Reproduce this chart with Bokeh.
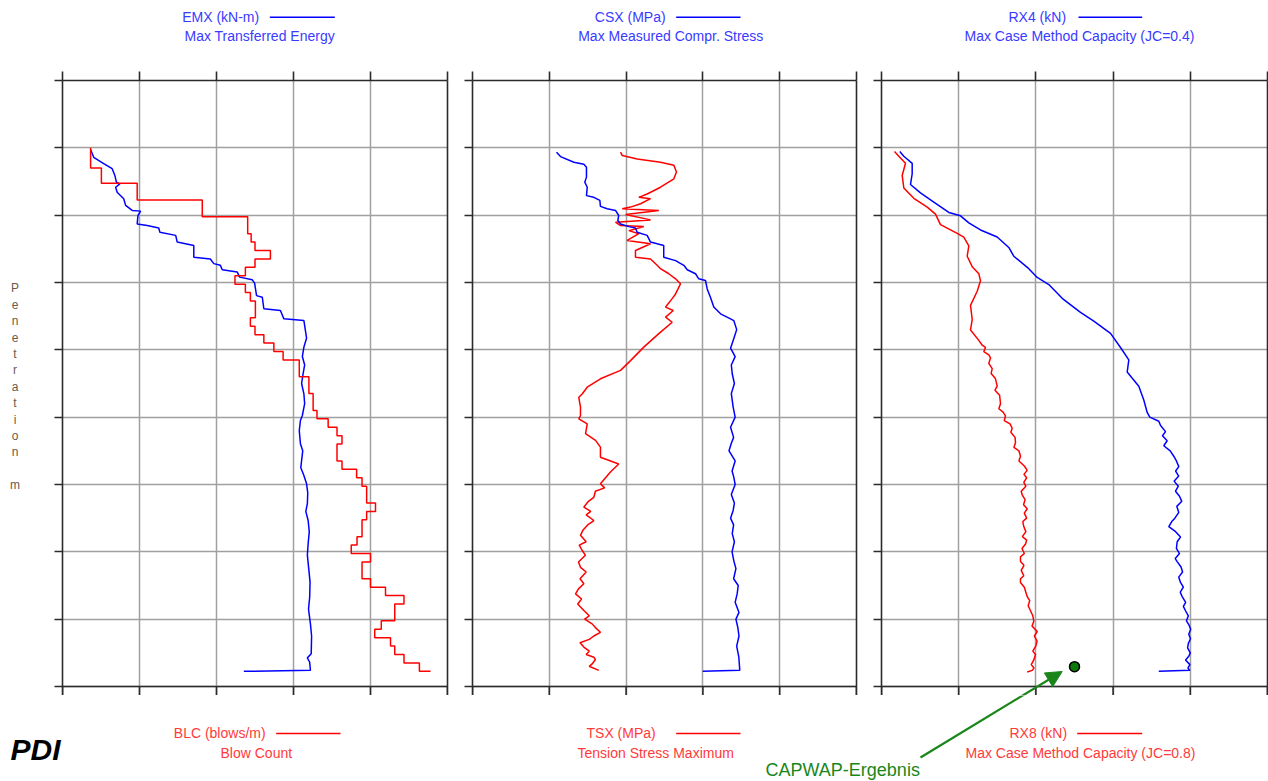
from bokeh.plotting import figure
from bokeh.models import (Range1d, FixedTicker, LinearAxis, Label, Span, Arrow, NormalHead,
                          CustomJSTickFormatter)
from bokeh.layouts import row, column
from bokeh.embed import file_html
from bokeh.resources import INLINE

# ---------------- data (depth in m, values in panel units) ----------------
depth_ticks = [0, 2, 4, 6, 8, 10, 12, 14, 16, 18]

# Panel 1: EMX (kN-m) and BLC (blows/m)
emx_depth = [2.05, 2.28, 2.47, 2.62, 2.82, 3.02, 3.07, 3.17, 3.32, 3.51, 3.71, 3.86, 3.88, 4.01, 4.26,
             4.31, 4.38, 4.51, 4.60, 4.80, 4.90, 5.25, 5.30, 5.44, 5.49, 5.62, 5.69, 5.84, 5.92, 6.02,
             6.39, 6.44, 6.78, 6.83, 7.08, 7.13, 7.43, 7.65, 7.92, 8.20, 8.45, 8.71, 9.00, 9.31, 9.60,
             9.95, 10.10, 10.40, 10.79, 11.00, 11.29, 11.50, 11.73, 11.98, 12.25, 12.57, 12.80, 13.07,
             13.40, 13.76, 14.10, 14.55, 14.90, 15.35, 15.70, 16.14, 16.50, 17.03, 17.15, 17.28, 17.52, 17.55]
emx_value = [7.3, 8.1, 10.7, 12.9, 13.6, 14.0, 14.9, 13.8, 14.2, 15.9, 16.4, 18.1, 20.3, 19.6, 19.4,
             22.0, 25.0, 25.3, 29.4, 29.8, 34.1, 34.1, 38.4, 39.3, 41.0, 41.5, 45.4, 46.0, 49.3, 49.9,
             50.4, 51.9, 52.3, 56.6, 57.5, 62.7, 63.1, 63.4, 62.7, 62.3, 62.9, 62.5, 62.1, 62.7, 62.9,
             62.3, 61.8, 61.5, 61.8, 62.4, 62.1, 61.9, 62.7, 63.4, 63.7, 63.6, 63.2, 63.8,
             64.1, 63.8, 63.6, 64.0, 64.3, 64.2, 63.9, 64.4, 64.7, 64.6, 63.6, 64.2, 64.4, 47.1]

blc_depth = [2.0, 2.6, 3.05, 3.55, 4.05, 4.55, 4.8, 5.05, 5.3, 5.55, 5.8, 6.05, 6.3, 6.55, 7.05, 7.3,
             7.55, 7.8, 8.05, 8.3, 8.8, 9.3, 9.8, 10.05, 10.3, 10.55, 10.8, 11.3, 11.55, 11.8, 12.05,
             12.55, 12.8, 13.05, 13.55, 13.8, 14.05, 14.3, 14.8, 15.05, 15.3, 15.55, 16.05, 16.3, 16.55,
             16.8, 17.05, 17.3, 17.55]
blc_value = [7.3, 10.1, 19.4, 36.3, 48.1, 49.0, 50.0, 54.0, 50.0, 47.5, 44.8, 47.5, 48.8, 50.1, 48.8,
             50.0, 52.3, 54.9, 57.3, 61.5, 64.0, 65.1, 66.1, 69.0, 71.3, 72.6, 71.3, 72.6, 76.4, 77.8,
             79.0, 81.3, 79.0, 77.8, 76.5, 75.0, 80.0, 77.8, 80.0, 83.9, 88.7, 86.3, 82.8, 81.1, 85.2,
             86.3, 88.7, 92.7, 95.6]

# Panel 2: CSX (MPa) and TSX (MPa)
csx_depth = [2.13, 2.26, 2.43, 2.49, 2.58, 2.87, 3.02, 3.17, 3.42, 3.47, 3.56, 3.74, 3.81, 3.86, 4.01,
             4.16, 4.26, 4.34, 4.38, 4.51, 4.60, 4.80, 4.90, 5.25, 5.35, 5.49, 5.62, 5.74, 5.89, 5.94,
             6.19, 6.44, 6.73, 6.93, 7.08, 7.13, 7.40, 7.72, 7.95, 8.20, 8.45, 8.71, 9.00, 9.30, 9.70,
             10.00, 10.30, 10.60, 10.79, 11.00, 11.30, 11.60, 11.78, 12.00, 12.30, 12.55, 12.77, 13.00,
             13.20, 13.46, 13.70, 14.00, 14.26, 14.50, 14.80, 15.00, 15.25, 15.50, 15.80, 16.00, 16.24,
             16.50, 16.80, 17.13, 17.52, 17.55]
csx_value = [5.47, 5.73, 6.60, 7.25, 7.42, 7.42, 7.31, 7.47, 7.42, 7.90, 8.29, 8.33, 8.77, 9.31, 9.52,
             9.46, 9.64, 10.18, 10.61, 10.72, 11.37, 11.59, 12.45, 12.45, 13.22, 13.76, 13.98, 14.52, 14.73,
             15.17, 15.28, 15.49, 15.71, 16.15, 16.80, 17.01, 17.20, 16.97, 16.80, 17.10, 16.85, 16.91,
             17.05, 16.85, 16.97, 17.10, 16.80, 17.00, 16.84, 16.70, 17.10, 16.90, 17.01, 17.10, 16.85,
             17.05, 16.97, 16.80, 17.00, 16.91, 17.05, 16.90, 17.01, 17.15, 17.00, 17.30, 17.23, 17.10,
             17.35, 17.15, 17.27, 17.35, 17.20, 17.34, 17.40, 14.99]

tsx_depth = [2.13, 2.23, 2.33, 2.43, 2.52, 2.72, 2.92, 3.17, 3.37, 3.47, 3.51, 3.66, 3.76, 3.81, 3.86,
             3.98, 4.14, 4.21, 4.31, 4.34, 4.46, 4.55, 4.75, 4.85, 5.05, 5.25, 5.30, 5.49, 5.59, 5.74,
             5.89, 6.04, 6.34, 6.48, 6.73, 6.83, 7.03, 7.18, 7.52, 7.92, 8.32, 8.61, 8.86, 9.11, 9.31,
             9.41, 9.70, 9.95, 10.05, 10.20, 10.49, 10.69, 10.89, 11.19, 11.39, 11.63, 11.98, 12.10,
             12.20, 12.38, 12.50, 12.67, 12.80, 12.90, 13.07, 13.20, 13.35, 13.51, 13.70, 13.80, 13.96,
             14.10, 14.30, 14.46, 14.60, 14.80, 14.95, 15.10, 15.25, 15.40, 15.55, 15.74, 15.90, 16.00,
             16.14, 16.25, 16.39, 16.50, 16.60, 16.70, 16.83, 16.95, 17.05, 17.13, 17.20, 17.33, 17.40,
             17.52]
tsx_value = [9.64, 9.75, 10.72, 12.24, 13.11, 13.28, 13.11, 12.24, 11.37, 10.83, 11.59, 10.94, 10.29,
             9.75, 12.13, 9.96, 11.59, 9.31, 9.64, 11.15, 10.18, 10.83, 10.07, 11.59, 10.61, 10.61, 11.59,
             12.02, 12.24, 12.78, 13.22, 13.54, 13.22, 13.00, 12.57, 13.07, 12.57, 13.00, 12.13, 11.15,
             10.29, 9.64, 8.33, 7.47, 7.14, 6.92, 7.03, 7.03, 6.92, 7.47, 7.36, 8.01, 8.33, 8.33, 9.52,
             8.98, 8.33, 8.60, 8.00, 7.90, 7.55, 7.25, 7.70, 7.40, 7.90, 7.50, 7.20, 7.03, 7.40, 6.95,
             7.14, 7.35, 6.90, 7.03, 7.40, 7.00, 7.25, 6.90, 6.71, 7.10, 6.85, 7.25, 7.60, 7.30, 7.79,
             8.00, 8.33, 7.90, 7.60, 7.00, 7.25, 7.60, 7.40, 7.90, 8.00, 7.79, 7.60, 8.22]

# Panel 3: RX4 (kN) and RX8 (kN), CAPWAP result
rx4_depth = [2.11, 2.25, 2.46, 2.77, 3.09, 3.34, 3.61, 3.92, 4.02, 4.23, 4.44, 4.65, 4.96, 5.22, 5.59,
             5.85, 6.06, 6.47, 6.89, 7.15, 7.51, 7.93, 8.30, 8.66, 9.08, 9.49, 9.86, 10.00, 10.12, 10.25,
             10.43, 10.55, 10.70, 10.85, 11.00, 11.16, 11.30, 11.47, 11.60, 11.75, 11.90, 12.05, 12.20,
             12.35, 12.50, 12.65, 12.83, 13.00, 13.10, 13.25, 13.40, 13.56, 13.70, 13.90, 14.05, 14.20,
             14.29, 14.45, 14.60, 14.75, 14.91, 15.05, 15.20, 15.33, 15.50, 15.62, 15.75, 15.90, 16.05,
             16.16, 16.30, 16.45, 16.58, 16.72, 16.85, 17.00, 17.10, 17.21, 17.35, 17.45, 17.52, 17.55]
rx4_value = [474, 578, 795, 795, 751, 1010, 1355, 1744, 2047, 2262, 2565, 2997, 3298, 3427, 3816,
             4034, 4334, 4681, 5155, 5500, 5933, 6192, 6407, 6365, 6666, 6795, 6883, 6950, 7184, 7230,
             7358, 7280, 7400, 7313, 7480, 7572, 7640, 7702, 7620, 7700, 7580, 7690, 7617,
             7720, 7780, 7650, 7702, 7600, 7520, 7443, 7620, 7746, 7660, 7640, 7720, 7610,
             7660, 7760, 7800, 7700, 7746, 7820, 7740, 7790, 7880, 7820, 7876, 7950, 7900,
             7961, 8010, 7960, 8005, 7950, 7930, 8000, 7961, 7876, 7990, 7940, 7987, 7184]

rx8_depth = [2.11, 2.25, 2.46, 2.82, 3.19, 3.50, 3.76, 3.97, 4.28, 4.54, 4.65, 4.91, 5.22, 5.53, 5.74,
             5.95, 6.26, 6.68, 7.10, 7.41, 7.72, 7.85, 7.93, 8.05, 8.15, 8.24, 8.40, 8.56, 8.70, 8.85,
             9.08, 9.20, 9.35, 9.60, 9.75, 9.85, 9.96, 10.10, 10.20, 10.33, 10.45, 10.60, 10.75, 10.90,
             11.00, 11.16, 11.30, 11.45, 11.58, 11.70, 11.80, 11.94, 12.05, 12.20, 12.31, 12.45, 12.60,
             12.72, 12.85, 13.00, 13.10, 13.25, 13.40, 13.55, 13.65, 13.77, 13.90, 14.05, 14.15, 14.29,
             14.40, 14.55, 14.71, 14.80, 14.91, 15.05, 15.20, 15.33, 15.45, 15.60, 15.75, 15.90, 16.06,
             16.20, 16.37, 16.50, 16.65, 16.79, 16.95, 17.05, 17.21, 17.35, 17.45, 17.52, 17.57]
rx8_value = [337, 448, 622, 536, 578, 837, 1184, 1399, 1528, 1961, 2132, 2262, 2220, 2350, 2521,
             2565, 2479, 2306, 2350, 2306, 2521, 2600, 2694, 2650, 2780, 2824, 2780, 2868, 2840, 2950,
             2997, 2940, 3060, 3083, 3040, 3150, 3212, 3180, 3330, 3386, 3350, 3460, 3472, 3430,
             3560, 3601, 3560, 3700, 3775, 3690, 3760, 3686, 3740, 3620, 3645, 3720, 3680,
             3775, 3700, 3760, 3660, 3686, 3740, 3650, 3760, 3731, 3640, 3700, 3600, 3601,
             3690, 3620, 3686, 3600, 3601, 3700, 3740, 3775, 3840, 3800, 3860, 3920, 3946,
             3900, 4034, 3960, 4030, 4000, 3920, 3990, 3946, 3880, 3950, 3904, 3775]

capwap_value = [5000]
capwap_depth = [17.41]

# texts
panel_top_1 = ["EMX (kN-m)", "CSX (MPa)", "RX4 (kN)"]
panel_top_2 = ["Max Transferred Energy", "Max Measured Compr. Stress", "Max Case Method Capacity (JC=0.4)"]
panel_bot_1 = ["BLC (blows/m)", "TSX (MPa)", "RX8 (kN)"]
panel_bot_2 = ["Blow Count", "Tension Stress Maximum", "Max Case Method Capacity (JC=0.8)"]
y_axis_title = "Penetration m"
capwap_text = "CAPWAP-Ergebnis"
logo_text = "PDI"

# ---------------- style / layout (pixels) ----------------
FONT = "Liberation Sans"
BLUE = "#0000ff"
RED = "#ff0000"
TBLUE = "#3a3aff"
TRED = "#ff3a3a"
GREEN = "#1a861a"
AXIS = "#2b2b2b"
GRID = "#a0a0a0"
DEPTH_MAX = 18
LW = 1.5

W_TOTAL = 1268
TOP_H = 71          # titles strip; panel frames start 9 px lower (tick room)
TICK = 9
FRAME_H = 606       # 18 m
PANEL_H = TICK + FRAME_H + TICK
BOT_H = 781 - TOP_H - PANEL_H
FRAME_TOP = TOP_H + TICK            # 80
DEPTH_EXT = DEPTH_MAX * (FRAME_H + TICK) / FRAME_H   # frame extends 9 px below 18 m for the ticks
LEFT_W = 54

panels = [
    dict(bl=8, br=12, fw=385, xmax=100, xstep=20, left=62),
    dict(bl=13, br=12, fw=384, xmax=25, xstep=5, left=472),
    dict(bl=13, br=1, fw=386, xmax=10000, xstep=2000, left=881),
]

top_pos = [(181.7, 269.3, 334.3, 184.0), (594.3, 675.7, 740.0, 577.7), (1008.0, 1078.0, 1141.7, 964.0)]
bot_pos = [(173.3, 275.7, 340.0, 220.0), (586.0, 675.7, 740.0, 577.0), (1009.0, 1076.7, 1141.7, 965.0)]
TOP_Y1, TOP_Y2, BOT_Y1, BOT_Y2 = 16.7, 35.0, 732.7, 752.0

ARROW_TAIL = (920.0, 757.0)
ARROW_TIP = (1061.7, 671.0)


def px_to_panel(pn, px, py):
    x = (px - pn["left"]) / pn["fw"] * pn["xmax"]
    y = (py - FRAME_TOP) / FRAME_H * DEPTH_MAX
    return x, y


def style_axis(ax, ticks, tick_out):
    ax.ticker = FixedTicker(ticks=ticks)
    ax.formatter = CustomJSTickFormatter(code="return ''")
    ax.major_label_text_font_size = "0px"
    ax.major_tick_in = 0
    ax.major_tick_out = tick_out
    ax.minor_tick_in = 0
    ax.minor_tick_out = 0
    ax.major_label_standoff = 0
    ax.axis_line_color = AXIS
    ax.axis_line_width = 1.6
    ax.major_tick_line_color = AXIS
    ax.major_tick_line_width = 1.6


def make_panel(pn):
    xticks = [pn["xstep"] * i for i in range(6)]
    p = figure(width=pn["bl"] + pn["fw"] + pn["br"], height=PANEL_H,
               x_range=Range1d(0, pn["xmax"]), y_range=Range1d(DEPTH_EXT, 0),
               output_backend="svg", toolbar_location=None, x_axis_location="above",
               min_border_left=pn["bl"], min_border_right=pn["br"],
               min_border_top=TICK, min_border_bottom=0)
    style_axis(p.xaxis[0], xticks, TICK)
    style_axis(p.yaxis[0], depth_ticks, 8)
    right = LinearAxis()
    style_axis(right, [], 0)
    p.add_layout(right, "right")
    p.xgrid.ticker = FixedTicker(ticks=xticks)
    p.ygrid.ticker = FixedTicker(ticks=depth_ticks)
    p.grid.grid_line_color = GRID
    p.grid.grid_line_width = 1.5
    p.outline_line_color = None
    p.background_fill_color = "white"
    p.border_fill_color = "white"
    # bottom axis line and outward ticks, inside the extended frame
    p.add_layout(Span(location=DEPTH_MAX, dimension="width", line_color=AXIS, line_width=1.6))
    p.segment(x0=xticks, y0=[DEPTH_MAX] * len(xticks), x1=xticks, y1=[DEPTH_EXT] * len(xticks),
              line_color=AXIS, line_width=1.6)
    return p


def make_strip(width, height, top):
    s = figure(width=width, height=height, x_range=Range1d(0, width), y_range=Range1d(top + height, top),
               output_backend="svg", toolbar_location=None, x_axis_location=None, y_axis_location=None,
               min_border=0)
    s.outline_line_color = None
    s.xgrid.visible = False
    s.ygrid.visible = False
    s.background_fill_color = "white"
    s.border_fill_color = "white"
    return s


def add_text(p, x, y, text, color, size="14px", align="left", baseline="middle", style="normal"):
    p.add_layout(Label(x=x, y=y, text=text, text_color=color, text_font=FONT,
                       text_font_size=size, text_align=align, text_baseline=baseline,
                       text_font_style=style))


figs = [make_panel(pn) for pn in panels]
f1, f2, f3 = figs

# panel 1
f1.line(emx_value, emx_depth, line_color=BLUE, line_width=LW)
blc_x, blc_y = [], []
for i in range(len(blc_value) - 1):
    blc_x += [blc_value[i], blc_value[i]]
    blc_y += [blc_depth[i], blc_depth[i + 1]]
blc_x.append(blc_value[-1])
blc_y.append(blc_depth[-1])
f1.line(blc_x, blc_y, line_color=RED, line_width=LW)

# panel 2
f2.line(tsx_value, tsx_depth, line_color=RED, line_width=LW)
f2.line(csx_value, csx_depth, line_color=BLUE, line_width=LW)

# panel 3
f3.line(rx8_value, rx8_depth, line_color=RED, line_width=LW)
f3.line(rx4_value, rx4_depth, line_color=BLUE, line_width=LW)
f3.scatter(capwap_value, capwap_depth, size=10, fill_color="#0b7a0b", line_color="black", line_width=1.5)
tx, ty = px_to_panel(panels[2], *ARROW_TAIL)
hx, hy = px_to_panel(panels[2], *ARROW_TIP)
f3.add_layout(Arrow(x_start=tx, y_start=ty, x_end=hx, y_end=hy, line_color=GREEN, line_width=2.2,
                    end=NormalHead(size=16, fill_color=GREEN, line_color=GREEN, line_width=1)))

# top strip: titles
top = make_strip(W_TOTAL, TOP_H, 0)
for i in range(3):
    x1, lx0, lx1, x2 = top_pos[i]
    add_text(top, x1, TOP_Y1, panel_top_1[i], TBLUE)
    top.line([lx0, lx1], [TOP_Y1, TOP_Y1], line_color=BLUE, line_width=1.6)
    add_text(top, x2, TOP_Y2, panel_top_2[i], TBLUE)

# left strip: vertical axis title
left = make_strip(LEFT_W, PANEL_H, TOP_H)
for i, ch in enumerate(y_axis_title):
    if ch != " ":
        add_text(left, 14.5, 281.7 + i * 16.67, ch, "#6a5a4a", size="12px", align="center")

# bottom strip: legends, logo, CAPWAP caption
bot = make_strip(W_TOTAL, BOT_H, TOP_H + PANEL_H)
for i in range(3):
    x1, lx0, lx1, x2 = bot_pos[i]
    add_text(bot, x1, BOT_Y1, panel_bot_1[i], TRED)
    bot.line([lx0, lx1], [BOT_Y1 + 0.3, BOT_Y1 + 0.3], line_color=RED, line_width=1.6)
    add_text(bot, x2, BOT_Y2, panel_bot_2[i], TRED)
add_text(bot, 10, 749, logo_text, "black", size="30px", style="bold italic")
add_text(bot, 765, 769, capwap_text, GREEN, size="18px")
bot.add_layout(Arrow(x_start=ARROW_TAIL[0], y_start=ARROW_TAIL[1], x_end=ARROW_TIP[0], y_end=ARROW_TIP[1],
                     line_color=GREEN, line_width=2.2, end=None))

layout = column(top, row(left, f1, f2, f3), bot)
open("out.html", "w").write(file_html(layout, INLINE))
